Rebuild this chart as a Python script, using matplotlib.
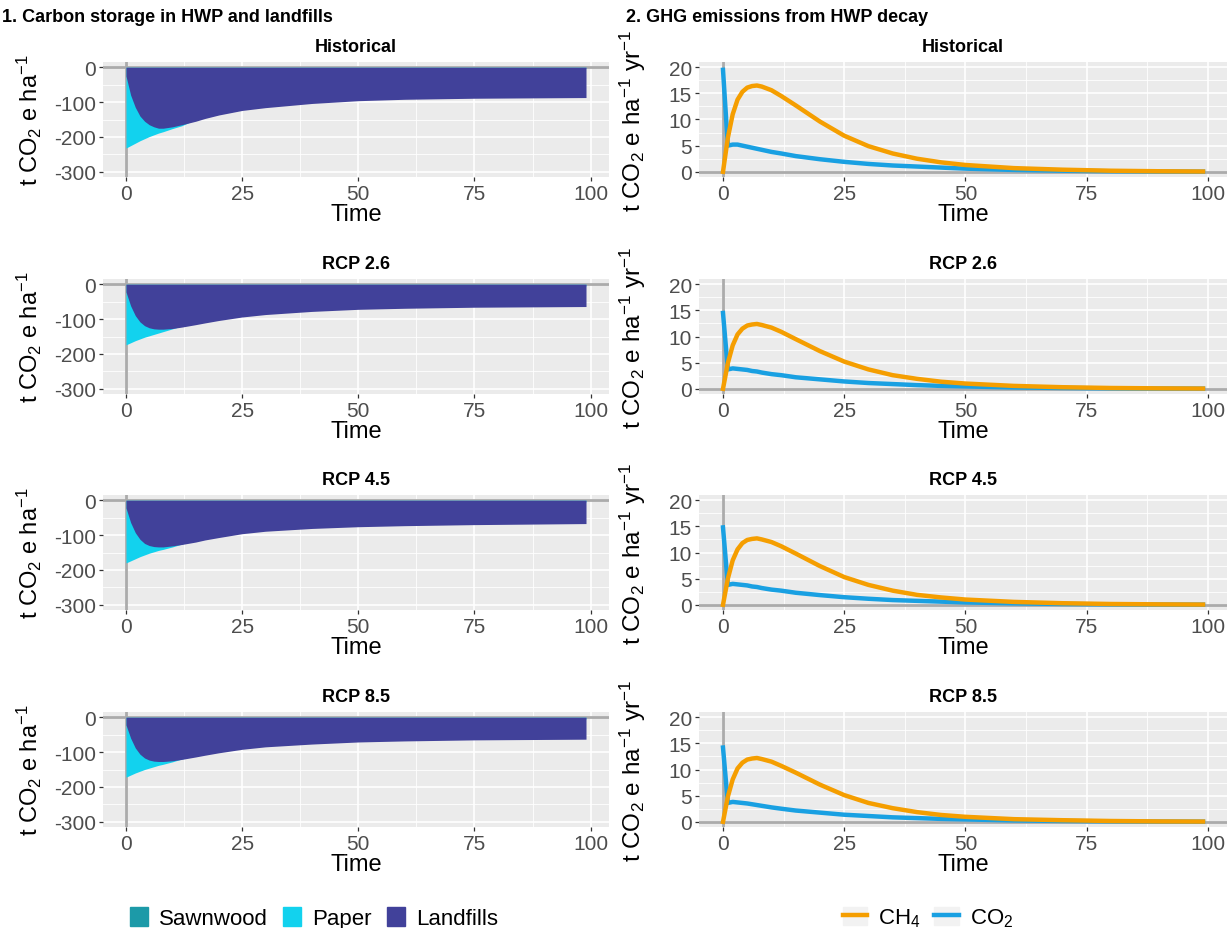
import matplotlib
matplotlib.use("Agg")
import matplotlib.pyplot as plt
from matplotlib.patches import Patch
from matplotlib.lines import Line2D
from matplotlib.legend_handler import HandlerTuple

plt.rcParams['font.family'] = ['Liberation Sans', 'DejaVu Sans']
plt.rcParams['mathtext.fontset'] = 'custom'
plt.rcParams['mathtext.rm'] = 'Liberation Sans'
plt.rcParams['mathtext.default'] = 'regular'
plt.rcParams['axes.unicode_minus'] = False

scenarios = ["Historical", "RCP 2.6", "RCP 4.5", "RCP 8.5"]

# carbon storage (t CO2 e / ha), read at these years
years_c = [0, 1, 2, 3, 4, 5, 6, 7, 8, 10, 12, 15, 17, 20, 25, 30, 40, 50, 60, 75, 99]
landfill_hist = [-25, -80, -115, -140, -155, -165, -171, -175, -175, -171, -165, -155, -147, -137, -124, -116, -104, -96, -92, -89, -87]
landfill_26 = [-22, -62, -90, -108, -119, -125, -128, -129, -129, -127, -123, -116, -111, -104, -94, -87, -78, -72, -69, -66, -64]
landfill_45 = [-22, -64, -93, -112, -124, -130, -133, -134, -134, -131, -127, -120, -114, -107, -96, -89, -81, -76, -73, -70, -67]
landfill_85 = [-22, -60, -88, -106, -117, -123, -126, -127, -127, -125, -121, -114, -109, -102, -92, -85, -77, -71, -68, -65, -63]
paper_hist = [-232, -225, -218, -211, -205, -199, -194, -189, -185, -176, -168, -150, -138, -120, -95, -75, -48, -32, -21, -11, -3]
paper_26 = [-174, -168, -162, -157, -152, -148, -144, -140, -136, -128, -120, -110, -102, -93, -78, -66, -49, -35, -25, -15, -5]
paper_45 = [-180, -174, -168, -162, -157, -152, -148, -144, -141, -134, -126, -113, -105, -96, -81, -69, -51, -37, -27, -16, -5]
paper_85 = [-172, -166, -160, -155, -150, -146, -142, -138, -135, -128, -120, -110, -102, -93, -78, -66, -49, -35, -25, -15, -5]

# emissions (t CO2 e / ha / yr)
years_e = [0, 1, 2, 3, 4, 5, 6, 7, 8, 10, 12, 15, 20, 25, 30, 35, 40, 45, 50, 60, 70, 80, 90, 99]
ch4_hist = [0, 6.5, 11.0, 13.8, 15.3, 16.1, 16.4, 16.5, 16.3, 15.6, 14.5, 12.7, 9.6, 6.9, 4.9, 3.5, 2.5, 1.8, 1.3, 0.7, 0.4, 0.2, 0.1, 0.05]
ch4_26 = [0, 4.9, 8.3, 10.4, 11.5, 12.1, 12.3, 12.4, 12.2, 11.7, 10.9, 9.5, 7.2, 5.2, 3.7, 2.6, 1.9, 1.35, 1.0, 0.55, 0.3, 0.15, 0.08, 0.04]
ch4_45 = [0, 5.0, 8.5, 10.6, 11.8, 12.4, 12.6, 12.7, 12.5, 12.0, 11.2, 9.8, 7.4, 5.3, 3.8, 2.7, 1.9, 1.4, 1.0, 0.55, 0.3, 0.15, 0.08, 0.04]
ch4_85 = [0, 4.8, 8.1, 10.2, 11.3, 11.9, 12.1, 12.2, 12.0, 11.5, 10.7, 9.4, 7.1, 5.1, 3.6, 2.6, 1.85, 1.3, 0.95, 0.5, 0.3, 0.15, 0.07, 0.04]
co2_hist = [19.5, 5.0, 5.2, 5.2, 5.0, 4.8, 4.6, 4.4, 4.2, 3.8, 3.5, 3.0, 2.4, 1.9, 1.5, 1.2, 1.0, 0.8, 0.6, 0.35, 0.2, 0.1, 0.05, 0.02]
co2_26 = [14.5, 3.7, 3.9, 3.8, 3.7, 3.6, 3.4, 3.3, 3.1, 2.8, 2.6, 2.2, 1.8, 1.4, 1.1, 0.9, 0.7, 0.55, 0.45, 0.25, 0.15, 0.08, 0.04, 0.02]
co2_45 = [14.8, 3.8, 4.0, 3.9, 3.8, 3.7, 3.5, 3.4, 3.2, 2.9, 2.7, 2.3, 1.85, 1.45, 1.15, 0.9, 0.75, 0.6, 0.45, 0.27, 0.15, 0.08, 0.04, 0.02]
co2_85 = [14.2, 3.6, 3.8, 3.7, 3.6, 3.5, 3.35, 3.2, 3.05, 2.75, 2.5, 2.15, 1.75, 1.35, 1.1, 0.85, 0.7, 0.55, 0.45, 0.25, 0.15, 0.08, 0.04, 0.02]

landfills = [landfill_hist, landfill_26, landfill_45, landfill_85]
papers = [paper_hist, paper_26, paper_45, paper_85]
ch4s = [ch4_hist, ch4_26, ch4_45, ch4_85]
co2s = [co2_hist, co2_26, co2_45, co2_85]

col_sawn = '#1C9AA8'
col_paper = '#12D2EE'
col_land = '#41419A'
col_ch4 = '#F59E00'
col_co2 = '#19A0E2'
txt_gray = '#4D4D4D'

W, H = 1230, 929
fig = plt.figure(figsize=(W / 100, H / 100), dpi=100)

row_top = [63, 280, 496, 713]
ph = 115


def make_ax(x0, x1, top):
    ax = fig.add_axes([x0 / W, 1 - (top + ph) / H, (x1 - x0) / W, ph / H])
    ax.set_facecolor('#EBEBEB')
    for s in ax.spines.values():
        s.set_visible(False)
    ax.set_xlim(-4.95, 103.95)
    ax.set_xticks([0, 25, 50, 75, 100])
    ax.set_xticks([12.5, 37.5, 62.5, 87.5], minor=True)
    ax.grid(which='major', color='white', lw=1.2)
    ax.grid(which='minor', color='white', lw=0.6)
    ax.set_axisbelow(True)
    ax.tick_params(which='major', length=3, width=0.9, color='#333333',
                   labelsize=15, labelcolor=txt_gray, pad=2)
    ax.tick_params(which='minor', length=0)
    ax.set_xlabel('Time', fontsize=17, labelpad=0)
    return ax


for i, name in enumerate(scenarios):
    # carbon storage panel
    ax = make_ax(103, 609, row_top[i])
    ax.axhline(0, color='#ABABAB', lw=2, zorder=1)
    ax.axvline(0, color='#ABABAB', lw=2, zorder=1)
    ax.fill_between(years_c, 0, papers[i], color=col_paper, lw=0, zorder=2)
    ax.fill_between(years_c, 0, landfills[i], color=col_land, lw=0, zorder=3)
    ax.set_ylim(-315, 15)
    ax.set_yticks([-300, -200, -100, 0])
    ax.set_yticks([-250, -150, -50], minor=True)
    ax.set_title(name, fontsize=13, fontweight='bold', pad=8)
    ax.set_ylabel('t CO$_2$ e ha$^{-1}$', fontsize=17)
    ax.yaxis.set_label_coords(-0.117, 0.5)

    # emissions panel
    ax2 = make_ax(699, 1227, row_top[i])
    ax2.axhline(0, color='#ABABAB', lw=2, zorder=1)
    ax2.axvline(0, color='#ABABAB', lw=2, zorder=1)
    ax2.plot(years_e, co2s[i], color=col_co2, lw=3.2, zorder=3)
    ax2.plot(years_e, ch4s[i], color=col_ch4, lw=3.2, zorder=4)
    ax2.set_ylim(-1, 21)
    ax2.set_yticks([0, 5, 10, 15, 20])
    ax2.set_yticks([2.5, 7.5, 12.5, 17.5], minor=True)
    ax2.set_title(name, fontsize=13, fontweight='bold', pad=8)
    ax2.set_ylabel('t CO$_2$ e ha$^{-1}$ yr$^{-1}$', fontsize=17.5)
    ax2.yaxis.set_label_coords(-0.097, 0.5)

fig.text(2 / W, 1 - 18 / H, '1. Carbon storage in HWP and landfills',
         fontsize=13, fontweight='bold', va='center', ha='left')
fig.text(626 / W, 1 - 18 / H, '2. GHG emissions from HWP decay',
         fontsize=13, fontweight='bold', va='center', ha='left')

left_handles = [Patch(color=col_sawn), Patch(color=col_paper), Patch(color=col_land)]
fig.legend(left_handles, ['Sawnwood', 'Paper', 'Landfills'], loc='center',
           bbox_to_anchor=(314 / W, 1 - 919 / H), ncol=3, frameon=False,
           fontsize=16, handlelength=0.8, handleheight=0.9, handletextpad=0.5,
           columnspacing=0.7)

# line keys sit on a light grey square
key_bg = '#F2F2F2'
right_handles = [(Patch(color=key_bg), Line2D([], [], color=col_ch4, lw=3.2)),
                 (Patch(color=key_bg), Line2D([], [], color=col_co2, lw=3.2))]
fig.legend(right_handles, ['CH$_4$', 'CO$_2$'], loc='center',
           bbox_to_anchor=(928 / W, 1 - 919 / H), ncol=2, frameon=False,
           fontsize=16, handlelength=1.1, handleheight=0.9, handletextpad=0.5,
           columnspacing=0.6, handler_map={tuple: HandlerTuple(ndivide=1)})

fig.savefig('out.png', dpi=100)
